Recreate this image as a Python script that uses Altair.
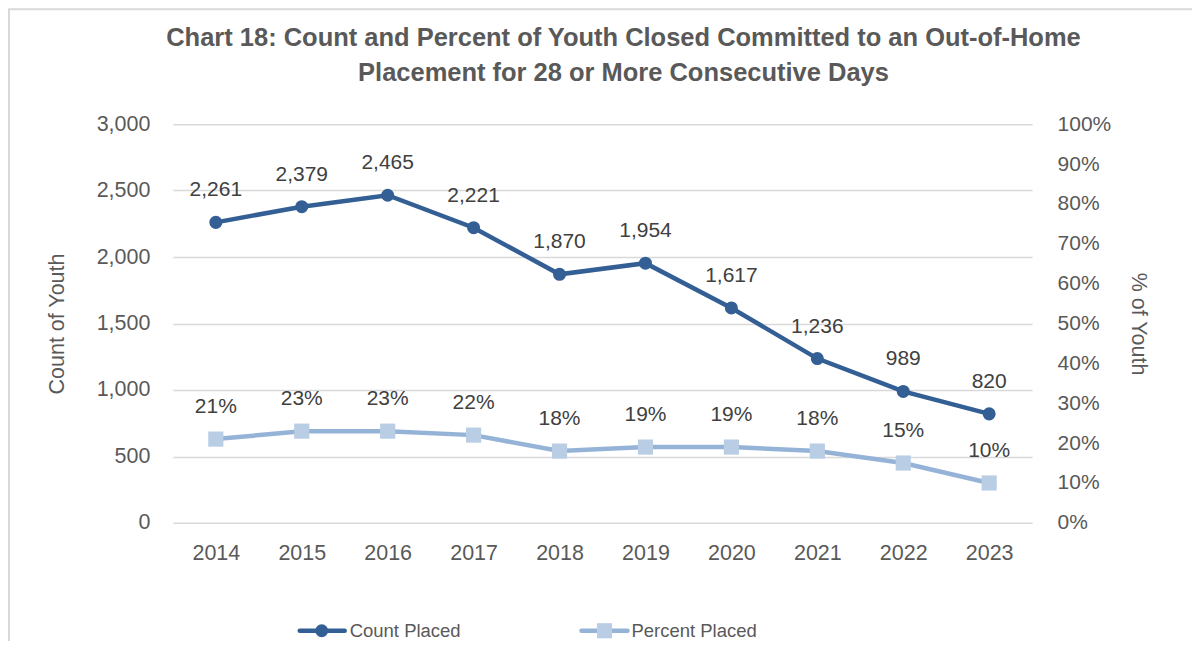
import altair as alt
import pandas as pd

years = ["2014", "2015", "2016", "2017", "2018", "2019", "2020", "2021", "2022", "2023"]
count_placed = [2261, 2379, 2465, 2221, 1870, 1954, 1617, 1236, 989, 820]
percent_placed = [21, 23, 23, 22, 18, 19, 19, 18, 15, 10]
count_ticks = [0, 500, 1000, 1500, 2000, 2500, 3000]
pct_ticks = [i / 10 for i in range(11)]
title_lines = ["Chart 18: Count and Percent of Youth Closed Committed to an Out-of-Home",
               "Placement for 28 or More Consecutive Days"]
legend_labels = ["Count Placed", "Percent Placed"]

df = pd.DataFrame({
    "year": years,
    "count": count_placed,
    "pct": [p / 100 for p in percent_placed],
    "count_label": [f"{c:,}" for c in count_placed],
    "pct_label": [f"{p}%" for p in percent_placed],
})

FONT = "Liberation Sans"
TXT = "#595959"
DARK = "#335F95"
LIGHT_LINE = "#95B3D7"
LIGHT_MARK = "#B9CDE5"

x = alt.X("year:N", title=None,
          scale=alt.Scale(type="point", padding=0.5),
          axis=alt.Axis(labelAngle=0, labelFontSize=21.5, labelColor=TXT, labelPadding=20,
                        domain=False, ticks=False, labelFont=FONT))

y_count = alt.Y("count:Q", title="Count of Youth",
                scale=alt.Scale(domain=[0, 3000]),
                axis=alt.Axis(values=count_ticks, format=",.0f", labelFontSize=21.5, labelColor=TXT,
                              labelPadding=23, domain=False, ticks=False, gridColor="#D9D9D9",
                              gridWidth=1.5, titleFontSize=21.5, titleFontWeight="normal",
                              titleColor=TXT, titlePadding=28, labelFont=FONT, titleFont=FONT))

y_pct = alt.Y("pct:Q", title="% of Youth",
              scale=alt.Scale(domain=[0, 1]),
              axis=alt.Axis(orient="right", values=pct_ticks, format=".0%", labelFontSize=21,
                            labelColor=TXT, labelPadding=25, domain=False, ticks=False, grid=False,
                            titleFontSize=21.5, titleFontWeight="normal", titleColor=TXT,
                            titlePadding=16, labelFont=FONT, titleFont=FONT))

base = alt.Chart(df)

count_layer = alt.layer(
    base.mark_line(color=DARK, strokeWidth=4.5).encode(x=x, y=y_count),
    base.mark_point(shape="circle", filled=True, size=170, color=DARK, opacity=1).encode(x=x, y=y_count),
    base.mark_text(dy=-32, fontSize=21, color="#404040", font=FONT).encode(x=x, y=y_count, text="count_label:N"),
)

pct_layer = alt.layer(
    base.mark_line(color=LIGHT_LINE, strokeWidth=4.5).encode(x=x, y=y_pct),
    base.mark_point(shape="square", filled=True, size=230, color=LIGHT_MARK, opacity=1).encode(x=x, y=y_pct),
    base.mark_text(dy=-32, fontSize=21, color="#404040", font=FONT).encode(x=x, y=y_pct, text="pct_label:N"),
)

one = alt.Chart(pd.DataFrame({"a": [0]}))

border = one.mark_rect(fill=None, stroke="#D9D9D9", strokeWidth=2).encode(
    x=alt.value(-164), x2=alt.value(1100), y=alt.value(-115), y2=alt.value(600))

title = alt.layer(
    one.mark_text(text=title_lines[0], fontSize=25.5, fontWeight="bold", color=TXT, font=FONT,
                  align="center", baseline="middle").encode(x=alt.value(451), y=alt.value(-86)),
    one.mark_text(text=title_lines[1], fontSize=25.5, fontWeight="bold", color=TXT, font=FONT,
                  align="center", baseline="middle").encode(x=alt.value(451), y=alt.value(-51)),
)

LY = 507
legend = alt.layer(
    one.mark_rule(color=DARK, strokeWidth=4.5, strokeCap="round").encode(
        x=alt.value(127), x2=alt.value(172), y=alt.value(LY)),
    one.mark_point(shape="circle", filled=True, size=170, color=DARK, opacity=1).encode(
        x=alt.value(149), y=alt.value(LY)),
    one.mark_text(text=legend_labels[0], align="left", baseline="middle", fontSize=18.5,
                  color=TXT, font=FONT).encode(x=alt.value(177), y=alt.value(LY)),
    one.mark_rule(color=LIGHT_LINE, strokeWidth=4.5, strokeCap="round").encode(
        x=alt.value(409), x2=alt.value(455), y=alt.value(LY)),
    one.mark_point(shape="square", filled=True, size=230, color=LIGHT_MARK, opacity=1).encode(
        x=alt.value(432), y=alt.value(LY)),
    one.mark_text(text=legend_labels[1], align="left", baseline="middle", fontSize=18.5,
                  color=TXT, font=FONT).encode(x=alt.value(459), y=alt.value(LY)),
)

chart = alt.layer(border, title, count_layer, pct_layer, legend).resolve_scale(
    y="independent"
).properties(
    width=860,
    height=399,
    autosize=alt.AutoSizeParams(type="none"),
    padding={"left": 165, "top": 116, "right": 160, "bottom": 118},
).configure_view(stroke=None)

chart.save("out.html", embed_options={"renderer": "svg", "actions": False})
